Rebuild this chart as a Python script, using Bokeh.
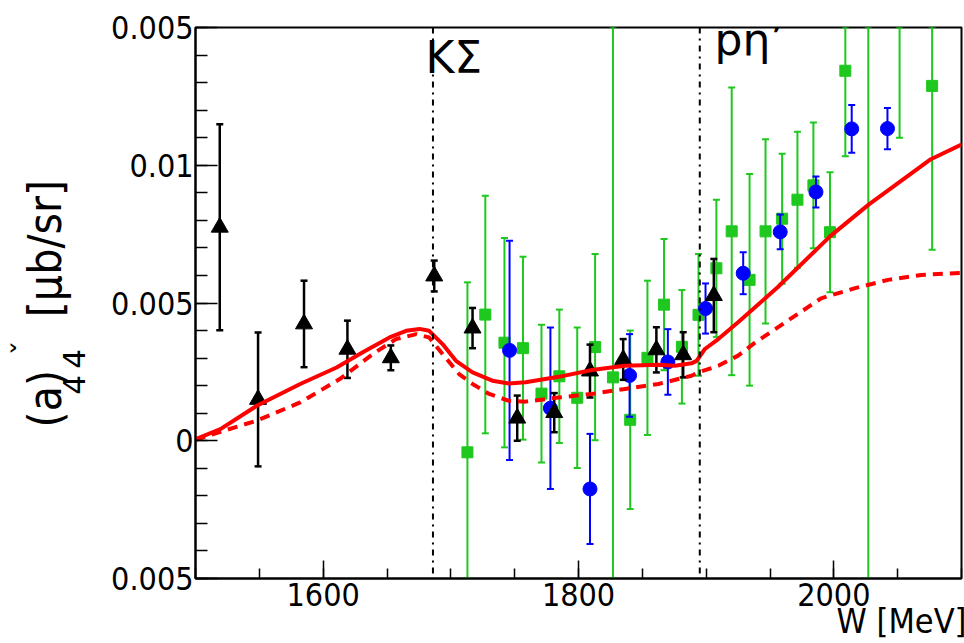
import numpy as np
from bokeh.plotting import figure
from bokeh.models import Range1d, FixedTicker, Span, Label, Title, CustomJSTickFormatter
from bokeh.embed import file_html
from bokeh.resources import INLINE

# ---------------- data ----------------
black_w = [1519, 1549, 1585, 1619, 1653, 1687, 1717, 1752, 1781, 1809, 1835, 1861, 1882, 1906]
black_v = [0.00775, 0.0015, 0.00424, 0.00332, 0.00301, 0.00598, 0.00409, 0.00082, 0.00102,
           0.00253, 0.00295, 0.0033, 0.00312, 0.00527]
black_e = [0.00374, 0.00243, 0.00157, 0.00104, 0.00045, 0.00056, 0.00073, 0.00082, 0.00071,
           0.00096, 0.00074, 0.00082, 0.00082, 0.00133]

blue_w = [1746, 1778, 1809, 1840, 1870, 1899.5, 1929, 1958, 1986, 2014, 2042]
blue_v = [0.00328, 0.00118, -0.00175, 0.00237, 0.00286, 0.0048, 0.00608, 0.00758, 0.00903,
          0.01132, 0.01133]
blue_e = [0.00398, 0.00293, 0.002, 0.0015, 0.00119, 0.00091, 0.00076, 0.00063, 0.00056,
          0.00087, 0.00075]

green_w = [1713, 1727, 1742, 1756.5, 1771, 1785, 1799, 1813, 1827, 1840.5, 1854, 1867, 1881,
           1894, 1908, 1920, 1934, 1946.5, 1959.5, 1971.5, 1984, 1997, 2009, 2027, 2051.5, 2077]
green_v = [-0.00042, 0.00458, 0.00356, 0.00336, 0.00171, 0.00234, 0.00156, 0.0034, 0.0023,
           0.00076, 0.00301, 0.00494, 0.00341, 0.00457, 0.00626, 0.0076, 0.00584, 0.0076,
           0.00806, 0.00875, 0.00927, 0.00757, 0.01343, 0.02, 0.0165, 0.01288]
green_e = [0.00617, 0.00431, 0.0038, 0.00332, 0.0025, 0.00242, 0.00255, 0.00338, 0.02,
           0.00324, 0.0028, 0.00238, 0.00206, 0.00221, 0.00249, 0.00522, 0.00384, 0.00334,
           0.00236, 0.00247, 0.00228, 0.00218, 0.0031, 0.03, 0.0055, 0.00595]

solid_w = [1500, 1519.5, 1548, 1582, 1610.5, 1631, 1652, 1665, 1675.5, 1683, 1693.5, 1704,
           1717, 1732.5, 1745.5, 1758.5, 1784.5, 1810.5, 1836.5, 1862.5, 1875.5, 1888.5,
           1892.5, 1899, 1909.5, 1925, 1956, 1997, 2012, 2027.5, 2076, 2100]
solid_v = [0.00006, 0.00042, 0.00127, 0.00206, 0.00266, 0.00321, 0.00375, 0.00399, 0.00406,
           0.00399, 0.00351, 0.0029, 0.00248, 0.00218, 0.00208, 0.00212, 0.00232, 0.00257,
           0.00272, 0.00276, 0.00272, 0.00281, 0.0029, 0.00333, 0.00369, 0.0043, 0.00557,
           0.00742, 0.00799, 0.00858, 0.01022, 0.01075]

dash_w = [1500, 1522, 1548, 1582, 1613, 1639, 1657, 1673, 1683, 1693.5, 1706.5, 1717, 1730,
          1745.5, 1758.5, 1784.5, 1810.5, 1836.5, 1862.5, 1888.5, 1895, 1909.5, 1925, 1938,
          1964, 1990, 2016, 2042.5, 2068.5, 2100]
dash_v = [0.00003, 0.00036, 0.00073, 0.00139, 0.00224, 0.00315, 0.00369, 0.00387, 0.00375,
          0.00315, 0.00242, 0.00206, 0.0017, 0.00145, 0.00142, 0.00157, 0.0017, 0.00188,
          0.00206, 0.00236, 0.0025, 0.00272, 0.00309, 0.00355, 0.00436, 0.00517, 0.00553,
          0.00584, 0.00602, 0.00609]

thresholds = [1686, 1895]
threshold_labels = ["KΣ", "pη’"]

x_major = [1600, 1800, 2000]
x_minor = list(range(1500, 2101, 50))
y_major = [-0.005, 0.0, 0.005, 0.01, 0.015]
y_labels = ["0.005", "0", "0.005", "0.01", "0.005"]
y_minor = [round(-0.005 + 0.001 * i, 4) for i in range(21)]

NB = "\u00a0"
x_title = "W [MeV]"
y_title_main = "(a)" + NB * 4 + "[μb/sr]"
y_title_sub = "4\u20094" + NB * 14
y_title_accent = "ˇ"

XMIN, XMAX = 1500, 2100
YMIN, YMAX = -0.005, 0.015

GREEN = "#1ec81e"
BLUE = "#0000ff"
RED = "#ff0000"
TICKFONT = "DejaVu Sans Condensed, DejaVu Sans"

p = figure(width=964, height=643, x_range=Range1d(XMIN, XMAX), y_range=Range1d(YMIN, YMAX),
           output_backend="svg", toolbar_location=None,
           min_border_left=195, min_border_right=3, min_border_top=27, min_border_bottom=65)
p.background_fill_color = "white"
p.border_fill_color = "white"
p.outline_line_color = "black"
p.outline_line_width = 2
p.xgrid.visible = False
p.ygrid.visible = False

# axes
p.xaxis.ticker = FixedTicker(ticks=x_major, minor_ticks=x_minor)
p.yaxis.ticker = FixedTicker(ticks=y_major, minor_ticks=y_minor)
p.yaxis.formatter = CustomJSTickFormatter(args=dict(vals=y_major, labs=y_labels), code="""
let best = 0, bd = 1e9;
for (let i = 0; i < vals.length; i++) { const d = Math.abs(vals[i] - tick); if (d < bd) { bd = d; best = i; } }
return labs[best];
""")
for ax in (p.xaxis, p.yaxis):
    ax.axis_line_width = 2
    ax.axis_line_color = "black"
    ax.major_tick_line_width = 1.5
    ax.minor_tick_line_width = 1.5
    ax.major_tick_out = 0
    ax.minor_tick_out = 0
    ax.major_label_text_font = TICKFONT
    ax.major_label_text_font_size = "32px"
    ax.major_label_text_color = "black"
p.yaxis.major_tick_in = 22
p.yaxis.minor_tick_in = 12
p.xaxis.major_tick_in = 18
p.xaxis.minor_tick_in = 10
p.yaxis.major_label_standoff = 2
p.xaxis.major_label_standoff = 4

# subscript digits of the y title carried by the axis label
p.yaxis.axis_label = y_title_sub
p.yaxis.axis_label_text_font = "DejaVu Sans"
p.yaxis.axis_label_text_font_size = "31px"
p.yaxis.axis_label_text_font_style = "normal"
p.yaxis.axis_label_text_color = "black"
p.yaxis.axis_label_standoff = 16


def draw_series(w, v, e, color, marker, size, lw):
    v = np.asarray(v); e = np.asarray(e)
    p.segment(x0=w, y0=v - e, x1=w, y1=v + e, line_color=color, line_width=lw)
    top = np.clip(v + e, YMIN, YMAX)
    bot = np.clip(v - e, YMIN, YMAX)
    p.scatter(w, top, marker="dash", size=7, line_color=color, line_width=lw)
    p.scatter(w, bot, marker="dash", size=7, line_color=color, line_width=lw)
    p.scatter(w, v, marker=marker, size=size, fill_color=color, line_color=color)


draw_series(green_w, green_v, green_e, GREEN, "square", 11, 2)
draw_series(blue_w, blue_v, blue_e, BLUE, "circle", 14, 2)
draw_series(black_w, black_v, black_e, "black", "triangle", 17, 2.5)

for t in thresholds:
    p.add_layout(Span(location=t, dimension="height", line_color="black", line_width=2,
                      line_dash="6 5 2 5"))

p.line(dash_w, dash_v, line_color=RED, line_width=4, line_dash="10 7")
p.line(solid_w, solid_v, line_color=RED, line_width=4)

# threshold labels (screen units relative to the frame)
p.add_layout(Label(x=230, y=496, x_units="screen", y_units="screen", text=threshold_labels[0],
                   text_font="DejaVu Sans", text_font_size="44px", text_color="black"))
p.add_layout(Label(x=519, y=514, x_units="screen", y_units="screen", text=threshold_labels[1],
                   text_font="DejaVu Sans", text_font_size="44px", text_color="black"))

# axis titles as side-panel titles
p.add_layout(Title(text=x_title, align="right", offset=-5, standoff=-19,
                   text_font=TICKFONT, text_font_size="34px", text_font_style="normal",
                   text_color="black"), "below")
p.add_layout(Title(text=y_title_main, align="left", offset=151, standoff=-39.5,
                   vertical_align="middle",
                   text_font=TICKFONT, text_font_size="46px", text_font_style="normal",
                   text_color="black"), "left")
p.add_layout(Title(text=y_title_accent, align="left", offset=223, standoff=-13.3,
                   vertical_align="middle",
                   text_font="DejaVu Sans", text_font_size="30px", text_font_style="normal",
                   text_color="black"), "left")

open("out.html", "w").write(file_html(p, INLINE))
